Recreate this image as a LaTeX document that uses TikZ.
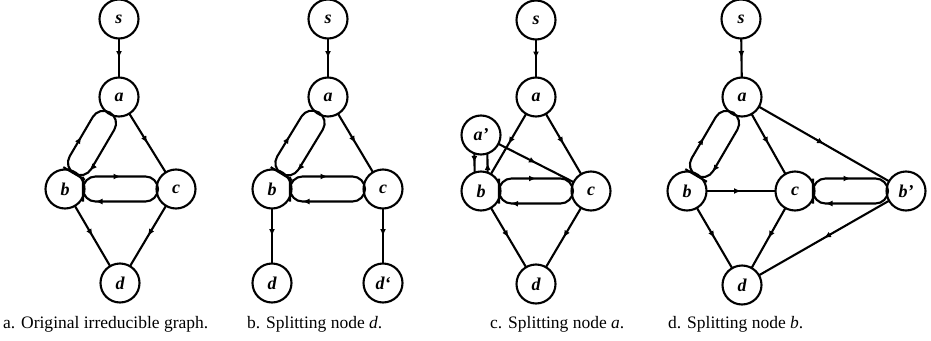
\documentclass[tikz,border=0pt]{standalone}
\usepackage{fontspec}
\setmainfont{Liberation Serif}
\usetikzlibrary{arrows.meta,decorations.markings,calc}

\tikzset{
  vertex/.style={circle, draw, line width=2.1pt, minimum size=39pt,
    inner sep=0pt, outer sep=0pt, font=\fontsize{18}{18}\selectfont\bfseries\itshape},
  edge/.style={line width=2.1pt},
  midarrow/.style={edge, postaction={decorate},
    decoration={markings, mark=at position 0.5 with {\arrow{Latex[length=7pt,width=6pt]}}}},
  pairarrows/.style={edge, rounded corners=12.5pt, postaction={decorate},
    decoration={markings,
      mark=at position 0.25 with {\arrow{Latex[length=7pt,width=6pt]}},
      mark=at position 0.75 with {\arrow{Latex[length=7pt,width=6pt]}}}},
  caption/.style={anchor=base west, inner sep=0pt, font=\fontsize{17.5}{18}\selectfont},
}

% A pair of opposite edges between #1 and #2, drawn as one rounded band:
% the side to the left of #1->#2 runs from #1 to #2, the other side back.
\newcommand\twoway[2]{%
  \draw[pairarrows]
    ($(#1)!18pt!(#2)$)
    -- ($(#1)!18pt!(#2)!12.5pt!90:(#2)$)
    -- ($(#2)!18pt!(#1)!12.5pt!-90:(#1)$)
    -- ($(#2)!18pt!(#1)!12.5pt!90:(#1)$)
    -- ($(#1)!18pt!(#2)!12.5pt!-90:(#2)$)
    -- cycle;}

\begin{document}
\begin{tikzpicture}[x=1pt,y=-1pt]
\useasboundingbox (0,0) rectangle (931,340);

% (a) original irreducible graph
\node[vertex] (as) at (119,19) {s};
\node[vertex] (aa) at (119,97) {a};
\node[vertex] (ab) at (65,189) {b};
\node[vertex] (ac) at (176,189) {c};
\node[vertex] (ad) at (120,283) {d};
\draw[midarrow] (as) -- (aa);
\draw[midarrow] (aa) -- (ac);
\draw[midarrow] (ab) -- (ad);
\draw[midarrow] (ac) -- (ad);
\twoway{ab}{aa}
\twoway{ab}{ac}

% (b) splitting node d
\node[vertex] (bs) at (328,19) {s};
\node[vertex] (ba) at (328,97) {a};
\node[vertex] (bb) at (272,189) {b};
\node[vertex] (bc) at (383,189) {c};
\node[vertex] (bd) at (272,283) {d};
\node[vertex] (bdp) at (383,283) {d‘};
\draw[midarrow] (bs) -- (ba);
\draw[midarrow] (ba) -- (bc);
\draw[midarrow] (bb) -- (bd);
\draw[midarrow] (bc) -- (bdp);
\twoway{bb}{ba}
\twoway{bb}{bc}

% (c) splitting node a
\node[vertex] (cs) at (536,20) {s};
\node[vertex] (ca) at (536,97) {a};
\node[vertex] (cap) at (481,135) {a’};
\node[vertex] (cb) at (481,191) {b};
\node[vertex] (cc) at (591,191) {c};
\node[vertex] (cd) at (536,284) {d};
\draw[midarrow] (cs) -- (ca);
\draw[midarrow] (ca) -- (cb);
\draw[midarrow] (ca) -- (cc);
\draw[midarrow] (cap) -- (cc);
\draw[midarrow] (cap.250.5) -- (cb.109.5);
\draw[midarrow] (cb.70.5) -- (cap.289.5);
\draw[midarrow] (cb) -- (cd);
\draw[midarrow] (cc) -- (cd);
\twoway{cb}{cc}

% (d) splitting node b
\node[vertex] (ds) at (741,19) {s};
\node[vertex] (da) at (742,97) {a};
\node[vertex] (db) at (687,191) {b};
\node[vertex] (dc) at (795,191) {c};
\node[vertex] (dbp) at (906,191) {b’};
\node[vertex] (dd) at (742,285) {d};
\draw[midarrow] (ds) -- (da);
\draw[midarrow] (da) -- (dc);
\draw[midarrow] (da) -- (dbp);
\draw[midarrow] (db) -- (dc);
\draw[midarrow] (db) -- (dd);
\draw[midarrow] (dc) -- (dd);
\draw[midarrow] (dbp) -- (dd);
\twoway{db}{da}
\twoway{dc}{dbp}

% captions
\node[caption] (capa) at (3,328) {a. Original irreducible graph.};
\node[caption] (capb) at (247,328) {b. Splitting node \textit{d}.};
\node[caption] (capc) at (490,328) {c. Splitting node \textit{a}.};
\node[caption] (capd) at (668,328) {d. Splitting node \textit{b}.};
\end{tikzpicture}
\end{document}
